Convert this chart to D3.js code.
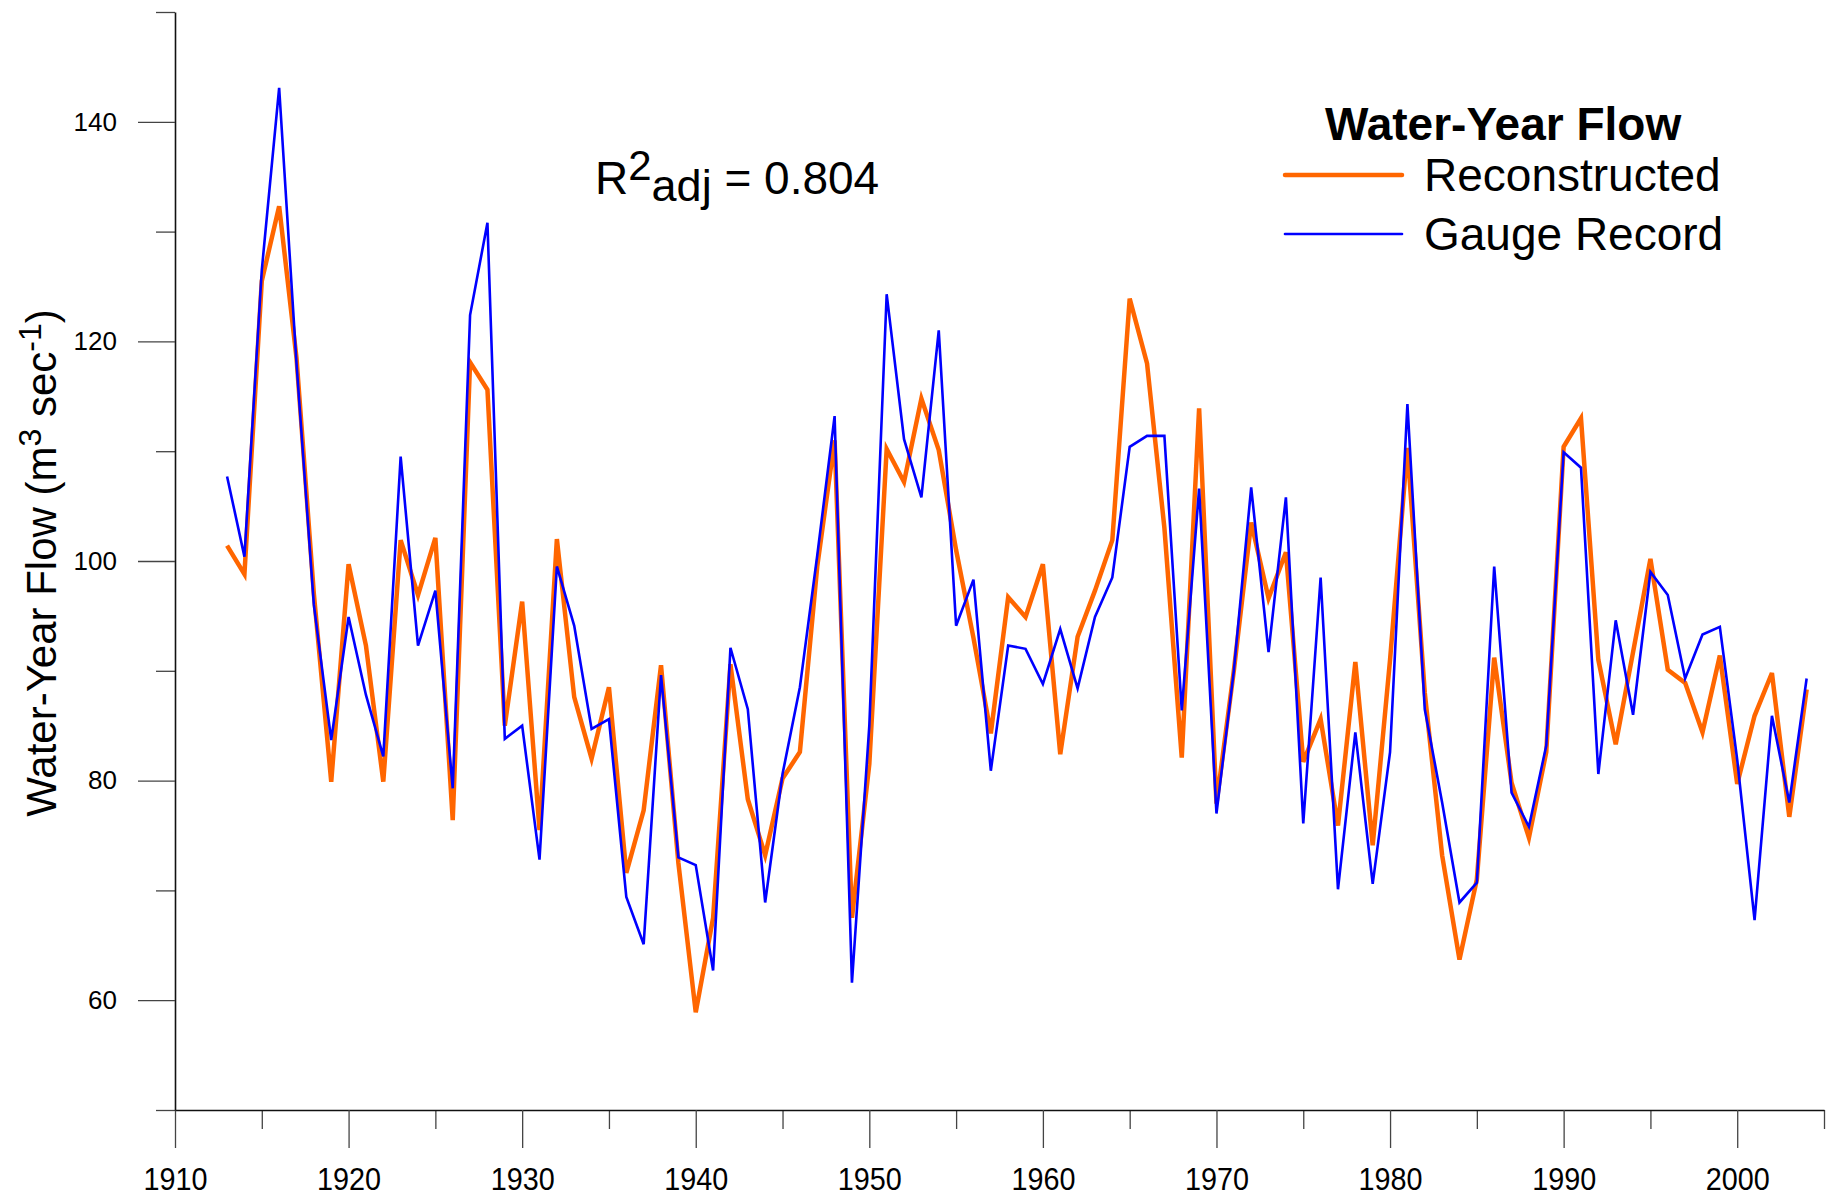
<!DOCTYPE html>
<html>
<head>
<meta charset="utf-8">
<script src="https://cdn.jsdelivr.net/npm/d3@7"></script>
<style>
  body { margin: 0; background: #fff; }
  text { font-family: "Liberation Sans", Arial, sans-serif; fill: #000; }
</style>
</head>
<body>
<div id="chart"></div>
<script>
// Water years shown in the chart
const years = d3.range(1913, 2005);

// Reconstructed water-year flow (m3/s)
const reconstructed = [
  101.4, 98.8, 125.5, 132.3, 118.5, 97.0, 79.9, 99.7, 92.3, 79.9,
  101.9, 96.9, 102.1, 76.4, 118.1, 115.6, 85.0, 96.3, 75.5, 102.0,
  87.6, 82.0, 88.5, 71.6, 77.3, 90.5, 72.5, 58.9, 67.5, 90.6,
  78.3, 73.2, 80.2, 82.6, 99.5, 111.0, 67.5, 81.5, 110.2, 107.2,
  114.8, 110.1, 101.0, 93.0, 84.3, 96.7, 94.9, 99.7, 82.4, 93.1,
  97.3, 101.9, 123.9, 118.0, 103.0, 82.1, 113.9, 77.9, 90.0, 103.5,
  96.6, 100.8, 81.7, 85.6, 75.9, 90.8, 74.1, 91.0, 110.3, 88.0,
  73.2, 63.7, 71.0, 91.2, 79.8, 74.8, 82.6, 110.4, 113.0, 91.0,
  83.3, 91.7, 100.2, 90.1, 88.9, 84.4, 91.4, 79.7, 85.9, 89.8,
  76.7, 88.3
];

// Gauge record water-year flow (m3/s)
const gauge = [
  107.7, 100.4, 126.5, 143.1, 118.0, 96.0, 83.7, 94.9, 87.8, 82.2,
  109.5, 92.3, 97.3, 79.3, 122.4, 130.8, 83.8, 85.0, 72.8, 99.5,
  94.1, 84.7, 85.6, 69.4, 65.1, 89.6, 73.0, 72.3, 62.7, 92.1,
  86.5, 68.9, 80.6, 88.5, 100.5, 113.2, 61.6, 85.0, 124.3, 111.1,
  105.8, 121.0, 94.1, 98.3, 80.9, 92.3, 92.0, 88.8, 93.8, 88.4,
  94.9, 98.5, 110.4, 111.4, 111.4, 86.4, 106.6, 77.0, 90.0, 106.7,
  91.7, 105.8, 76.1, 98.5, 70.1, 84.4, 70.6, 82.6, 114.3, 86.5,
  78.0, 68.9, 70.7, 99.5, 78.9, 75.8, 83.2, 109.9, 108.5, 80.6,
  94.6, 86.0, 99.0, 96.9, 89.3, 93.3, 94.0, 81.9, 67.3, 85.9,
  78.0, 89.3
];

// Tick positions
const xMajorTicks = [1910, 1920, 1930, 1940, 1950, 1960, 1970, 1980, 1990, 2000];
const xMinorTicks = [1915, 1925, 1935, 1945, 1955, 1965, 1975, 1985, 1995, 2005];
const yMajorTicks = [60, 80, 100, 120, 140];
const yMinorTicks = [50, 70, 90, 110, 130, 150];

const width = 1827;
const height = 1199;

const svg = d3.select("#chart")
  .append("svg")
  .attr("width", width)
  .attr("height", height);

// Scales
const x = d3.scaleLinear().domain([1910, 2005]).range([175, 1824]);
const y = d3.scaleLinear().domain([50, 150]).range([1110, 12]);

// X axis: minor ticks first, then major ticks with labels
svg.append("g")
  .attr("class", "x-minor")
  .attr("transform", "translate(0,1110)")
  .call(d3.axisBottom(x).tickValues(xMinorTicks).tickSize(19).tickFormat(""))
  .call(g => g.select(".domain").remove());

const xAxis = svg.append("g")
  .attr("class", "x-major")
  .attr("transform", "translate(0,1110)")
  .call(d3.axisBottom(x).tickValues(xMajorTicks).tickSize(38).tickSizeOuter(0)
    .tickPadding(19).tickFormat(d3.format("d")));

xAxis.selectAll("text")
  .style("font-size", "32px")
  .attr("textLength", 64)
  .attr("lengthAdjust", "spacingAndGlyphs");

// Y axis
svg.append("g")
  .attr("class", "y-minor")
  .attr("transform", "translate(175,0)")
  .call(d3.axisLeft(y).tickValues(yMinorTicks).tickSize(19).tickFormat(""))
  .call(g => g.select(".domain").remove());

const yAxis = svg.append("g")
  .attr("class", "y-major")
  .attr("transform", "translate(175,0)")
  .call(d3.axisLeft(y).tickValues(yMajorTicks).tickSize(37).tickSizeOuter(0)
    .tickPadding(21));

yAxis.selectAll("text").style("font-size", "26px");

svg.selectAll(".tick line").attr("stroke", "#444").attr("stroke-width", 1.3);
svg.selectAll(".domain").attr("stroke", "#111").attr("stroke-width", 1.6);

// Y axis title
const yTitle = svg.append("text")
  .attr("transform", "translate(56,563) rotate(-90)")
  .attr("text-anchor", "middle")
  .style("font-size", "42px");
yTitle.append("tspan").text("Water-Year Flow (m");
yTitle.append("tspan").attr("dy", -15).style("font-size", "32px").text("3");
yTitle.append("tspan").attr("dy", 15).text(" sec");
yTitle.append("tspan").attr("dy", -15).style("font-size", "32px").text("-1");
yTitle.append("tspan").attr("dy", 15).text(")");

// Series lines
const line = d3.line()
  .x((d, i) => x(years[i]))
  .y(d => y(d));

svg.append("path")
  .datum(reconstructed)
  .attr("fill", "none")
  .attr("stroke", "#ff6600")
  .attr("stroke-width", 4.5)
  .attr("d", line);

svg.append("path")
  .datum(gauge)
  .attr("fill", "none")
  .attr("stroke", "#0000ff")
  .attr("stroke-width", 2.6)
  .attr("d", line);

// R2 annotation
const r2 = svg.append("text")
  .attr("x", 595)
  .attr("y", 194)
  .style("font-size", "46px");
r2.append("tspan").text("R");
r2.append("tspan").attr("dy", -14).style("font-size", "42px").text("2");
r2.append("tspan").attr("dy", 21).style("font-size", "45px").text("adj");
r2.append("tspan").attr("dy", -7).text(" = 0.804");

// Legend
const legend = svg.append("g");
legend.append("text")
  .attr("x", 1325)
  .attr("y", 140)
  .style("font-size", "46px")
  .style("font-weight", "bold")
  .text("Water-Year Flow");

const legendItems = [
  { label: "Reconstructed", color: "#ff6600", w: 4.5, y: 175 },
  { label: "Gauge Record", color: "#0000ff", w: 2.6, y: 234 }
];

legend.selectAll("line.item")
  .data(legendItems)
  .enter().append("line")
  .attr("class", "item")
  .attr("x1", 1285).attr("x2", 1402)
  .attr("y1", d => d.y).attr("y2", d => d.y)
  .attr("stroke", d => d.color)
  .attr("stroke-width", d => d.w)
  .attr("stroke-linecap", "round");

legend.selectAll("text.item")
  .data(legendItems)
  .enter().append("text")
  .attr("class", "item")
  .attr("x", 1424)
  .attr("y", d => d.y + 16)
  .style("font-size", "46px")
  .text(d => d.label);
</script>
</body>
</html>
